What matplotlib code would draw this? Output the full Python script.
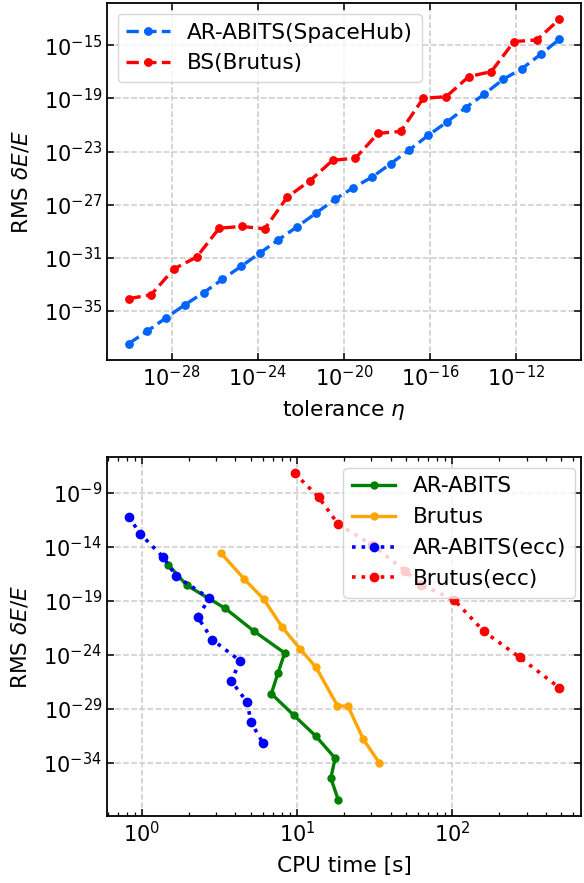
import numpy as np
import matplotlib
matplotlib.use("Agg")
import matplotlib.pyplot as plt
from matplotlib.ticker import NullLocator

# --- top panel: RMS dE/E vs tolerance (log10 exponents) ---
tol_spacehub = [-30.0, -29.13, -28.26, -27.39, -26.52, -25.65, -24.78, -23.91,
                -23.04, -22.17, -21.30, -20.43, -19.57, -18.70, -17.83, -16.96,
                -16.09, -15.22, -14.35, -13.48, -12.61, -11.74, -10.87, -10.0]
err_spacehub = [-37.46, -36.51, -35.51, -34.53, -33.62, -32.62, -31.64, -30.64,
                -29.63, -28.65, -27.63, -26.60, -25.72, -24.92, -23.91, -22.86,
                -21.78, -20.77, -19.69, -18.67, -17.56, -16.76, -15.68, -14.55]

tol_brutus = [-30.0, -28.95, -27.89, -26.84, -25.79, -24.74, -23.68, -22.63,
              -21.58, -20.53, -19.47, -18.42, -17.37, -16.32, -15.26, -14.21,
              -13.16, -12.11, -11.05, -10.0]
err_brutus = [-34.07, -33.77, -31.82, -30.94, -28.76, -28.63, -28.81, -26.42,
              -25.19, -23.66, -23.49, -21.63, -21.48, -18.99, -18.87, -17.36,
              -16.98, -14.72, -14.60, -13.04]

# --- bottom panel: RMS dE/E vs CPU time ---
cpu_abits = [0.170, 0.287, 0.536, 0.721, 0.919, 0.876, 0.833, 0.978,
             1.121, 1.244, 1.216, 1.264]
err_abits = [-15.67, -17.55, -19.70, -21.81, -23.84, -25.69, -27.61, -29.61,
             -31.56, -33.59, -35.44, -37.43]

cpu_brutus = [0.511, 0.659, 0.785, 0.904, 1.019, 1.121, 1.259, 1.327, 1.425, 1.529]
err_brutus2 = [-14.61, -16.99, -18.87, -21.46, -23.47, -25.17, -28.72, -28.78,
               -31.81, -34.03]

cpu_abits_ecc = [-0.087, -0.011, 0.138, 0.219, 0.433, 0.359, 0.453, 0.634,
                 0.574, 0.678, 0.702, 0.780]
err_abits_ecc = [-11.19, -12.80, -14.98, -16.71, -18.77, -20.51, -22.61, -24.58,
                 -26.41, -28.41, -30.26, -32.20]

cpu_brutus_ecc = [0.983, 1.138, 1.264, 1.482, 1.695, 1.795, 2.010, 2.202, 2.433, 2.689]
err_brutus_ecc = [-7.18, -9.40, -11.90, -13.81, -16.22, -17.50, -18.91, -21.83,
                  -24.24, -27.06]


def p10(v):
    return 10.0 ** np.array(v)


TICK_FS = 15
LABEL_FS = 15.6

fig = plt.figure(figsize=(5.84, 8.83), dpi=100)
ax1 = fig.add_axes([0.1832, 0.5923, 0.8116, 0.4043])
ax2 = fig.add_axes([0.1832, 0.0759, 0.8116, 0.4066])

ax1.plot(p10(tol_spacehub), p10(err_spacehub), "--o", color="#0165fc",
         lw=2.4, ms=5.3, label="AR-ABITS(SpaceHub)")
ax1.plot(p10(tol_brutus), p10(err_brutus), "--o", color="red",
         lw=2.4, ms=5.3, label="BS(Brutus)")
ax1.set_xscale("log")
ax1.set_yscale("log")
ax1.set_xticks([1e-28, 1e-24, 1e-20, 1e-16, 1e-12])
ax1.set_yticks([1e-35, 1e-31, 1e-27, 1e-23, 1e-19, 1e-15])
ax1.xaxis.set_minor_locator(NullLocator())
ax1.yaxis.set_minor_locator(NullLocator())
ax1.set_xlabel(r"tolerance $\eta$", fontsize=LABEL_FS, labelpad=6)
ax1.set_ylabel(r"RMS $\delta E/E$", fontsize=LABEL_FS, labelpad=9)
ax1.legend(loc="upper left", fontsize=LABEL_FS)

ax2.plot(p10(cpu_abits), p10(err_abits), "-o", color="green",
         lw=2.4, ms=5, label="AR-ABITS")
ax2.plot(p10(cpu_brutus), p10(err_brutus2), "-o", color="orange",
         lw=2.4, ms=5, label="Brutus")
ax2.plot(p10(cpu_abits_ecc), p10(err_abits_ecc), ":o", color="blue",
         lw=2.6, ms=6, label="AR-ABITS(ecc)")
ax2.plot(p10(cpu_brutus_ecc), p10(err_brutus_ecc), ":o", color="red",
         lw=2.6, ms=6, label="Brutus(ecc)")
ax2.set_xscale("log")
ax2.set_yscale("log")
ax2.set_yticks([1e-34, 1e-29, 1e-24, 1e-19, 1e-14, 1e-9])
ax2.yaxis.set_minor_locator(NullLocator())
ax2.set_xlabel("CPU time [s]", fontsize=LABEL_FS, labelpad=7)
ax2.set_ylabel(r"RMS $\delta E/E$", fontsize=LABEL_FS, labelpad=9)
ax2.legend(loc="upper right", bbox_to_anchor=(1.01, 1.0), fontsize=LABEL_FS)

for ax in (ax1, ax2):
    ax.grid(True, which="major", ls="--", color="0.8", lw=1.1)
    ax.set_axisbelow(True)
    ax.tick_params(which="both", direction="in", top=True, right=True,
                   labelsize=TICK_FS)
    ax.tick_params(which="major", length=5, width=1.1)
    ax.tick_params(which="minor", length=3, width=0.9)
    for s in ax.spines.values():
        s.set_linewidth(1.3)

fig.savefig("out.png", dpi=100)
